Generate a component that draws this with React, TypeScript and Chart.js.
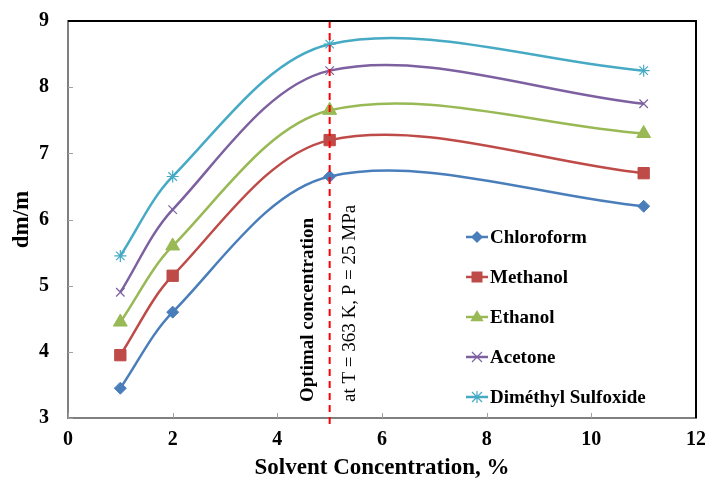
import React, { useEffect, useRef } from "react";
import { Chart, registerables } from "chart.js";

Chart.register(...registerables);

const xValues = [1, 2, 5, 11];
const seriesNames = ["Chloroform", "Methanol", "Ethanol", "Acetone", "Diméthyl Sulfoxide"];
const chloroform = [3.45, 4.6, 6.65, 6.2];
const methanol = [3.95, 5.15, 7.2, 6.7];
const ethanol = [4.45, 5.6, 7.65, 7.3];
const acetone = [4.9, 6.15, 8.25, 7.75];
const dmso = [5.45, 6.65, 8.65, 8.25];
const optimalX = 5;
const annotationLines = ["Optimal concentration", "at T = 363 K, P = 25 MPa"];
const xTicks = [0, 2, 4, 6, 8, 10, 12];
const yTicks = [3, 4, 5, 6, 7, 8, 9];

const colors = ["#4A7EBB", "#BE4B48", "#98B954", "#7D60A0", "#46AAC5"];
const markers = ["rectRot", "rect", "triangle", "crossRot", "star"];
const markerRadius = [6, 8, 8, 6, 6];
const FONT = "'Liberation Serif', 'Times New Roman', serif";

function drawMarker(ctx: CanvasRenderingContext2D, style: string, x: number, y: number) {
  ctx.beginPath();
  switch (style) {
    case "rectRot": {
      const r = 6;
      ctx.moveTo(x, y - r);
      ctx.lineTo(x + r, y);
      ctx.lineTo(x, y + r);
      ctx.lineTo(x - r, y);
      ctx.closePath();
      ctx.fill();
      break;
    }
    case "rect": {
      const s = 5.5;
      ctx.rect(x - s, y - s, 2 * s, 2 * s);
      ctx.fill();
      break;
    }
    case "triangle": {
      const r = 7;
      ctx.moveTo(x, y - r);
      ctx.lineTo(x + r * 0.95, y + r * 0.6);
      ctx.lineTo(x - r * 0.95, y + r * 0.6);
      ctx.closePath();
      ctx.fill();
      break;
    }
    case "crossRot": {
      const s = 5;
      ctx.moveTo(x - s, y - s);
      ctx.lineTo(x + s, y + s);
      ctx.moveTo(x + s, y - s);
      ctx.lineTo(x - s, y + s);
      ctx.stroke();
      break;
    }
    case "star": {
      const s = 5;
      ctx.moveTo(x - s, y - s);
      ctx.lineTo(x + s, y + s);
      ctx.moveTo(x + s, y - s);
      ctx.lineTo(x - s, y + s);
      ctx.moveTo(x, y - 6);
      ctx.lineTo(x, y + 6);
      ctx.stroke();
      break;
    }
  }
}

export default function App() {
  const ref = useRef<HTMLCanvasElement | null>(null);
  useEffect(() => {
    const allSeries = [chloroform, methanol, ethanol, acetone, dmso];
    const datasets = allSeries.map((vals, i) => ({
      label: seriesNames[i],
      data: xValues.map((x, j) => ({ x, y: vals[j] })),
      borderColor: colors[i],
      backgroundColor: colors[i],
      pointStyle: markers[i] as any,
      pointRadius: markerRadius[i],
      pointBorderWidth: i >= 3 ? 1.2 : 1,
      pointBorderColor: colors[i],
      borderWidth: 2.5,
      tension: 0.33,
      fill: false,
    }));

    const overlay = {
      id: "overlay",
      afterDatasetsDraw(chart: any) {
        const ctx = chart.ctx;
        const xs = chart.scales.x;
        const ys = chart.scales.y;
        const area = chart.chartArea;
        const px = xs.getPixelForValue(optimalX);
        ctx.save();
        // inner ticks
        ctx.strokeStyle = "#A0A0A0";
        ctx.lineWidth = 1;
        xTicks.forEach((t) => {
          const x = Math.round(xs.getPixelForValue(t)) + 0.5;
          ctx.beginPath();
          ctx.moveTo(x, area.bottom);
          ctx.lineTo(x, area.bottom - 5);
          ctx.stroke();
        });
        yTicks.forEach((t) => {
          const y = Math.round(ys.getPixelForValue(t)) + 0.5;
          ctx.beginPath();
          ctx.moveTo(area.left, y);
          ctx.lineTo(area.left + 5, y);
          ctx.stroke();
        });
        ctx.strokeStyle = "#FF0000";
        ctx.lineWidth = 2;
        ctx.setLineDash([7, 5]);
        ctx.beginPath();
        ctx.moveTo(px, area.top);
        ctx.lineTo(px, area.bottom + 6);
        ctx.stroke();
        ctx.setLineDash([]);
        // rotated annotation
        ctx.fillStyle = "#000";
        ctx.textAlign = "left";
        ctx.textBaseline = "middle";
        ctx.save();
        ctx.translate(px - 22, 402);
        ctx.rotate(-Math.PI / 2);
        ctx.font = `bold 19px ${FONT}`;
        ctx.fillText(annotationLines[0], 0, 0);
        ctx.restore();
        ctx.save();
        ctx.translate(px + 20, 402);
        ctx.rotate(-Math.PI / 2);
        ctx.font = `19px ${FONT}`;
        ctx.fillText(annotationLines[1], 0, 0);
        ctx.restore();
        // legend
        const lx = 466;
        let ly = 237;
        chart.data.datasets.forEach((ds: any) => {
          ctx.strokeStyle = ds.borderColor;
          ctx.lineWidth = 2.5;
          ctx.beginPath();
          ctx.moveTo(lx, ly);
          ctx.lineTo(lx + 22, ly);
          ctx.stroke();
          ctx.fillStyle = ds.borderColor;
          ctx.strokeStyle = ds.borderColor;
          ctx.lineWidth = 1.2;
          drawMarker(ctx, ds.pointStyle, lx + 11, ly);
          ctx.fillStyle = "#000";
          ctx.font = `bold 19px ${FONT}`;
          ctx.textAlign = "left";
          ctx.textBaseline = "middle";
          ctx.fillText(ds.label, lx + 24, ly + 1);
          ly += 40;
        });
        // frame top/right
        ctx.strokeStyle = "#000";
        ctx.lineWidth = 2;
        ctx.beginPath();
        ctx.moveTo(area.left, area.top);
        ctx.lineTo(area.right, area.top);
        ctx.lineTo(area.right, area.bottom);
        ctx.stroke();
        ctx.restore();
      },
    };

    const chart = new Chart(ref.current!, {
      type: "line",
      data: { datasets: datasets as any },
      plugins: [overlay],
      options: {
        animation: false,
        responsive: false,
        layout: { padding: { top: 21, right: 8, left: 0, bottom: 0 } },
        plugins: { legend: { display: false }, tooltip: { enabled: false } },
        scales: {
          x: {
            type: "linear",
            min: 0,
            max: 12,
            grid: { display: false, drawTicks: false },
            border: { color: "#808080", width: 2 },
            ticks: {
              stepSize: 2,
              color: "#000",
              font: { family: FONT, size: 20, weight: "bold" },
              padding: 10,
            },
            title: {
              display: true,
              text: "Solvent Concentration, %",
              color: "#000",
              font: { family: FONT, size: 23, weight: "bold" },
              padding: { top: 2 },
            },
            afterFit: (s: any) => {
              s.height = 68;
              s.paddingLeft = 0;
              s.paddingRight = 0;
            },
          },
          y: {
            min: 3,
            max: 9,
            grid: { display: false, drawTicks: false },
            border: { color: "#808080", width: 2 },
            ticks: {
              stepSize: 1,
              color: "#000",
              font: { family: FONT, size: 20, weight: "bold" },
              padding: 19,
            },
            title: {
              display: true,
              text: "dm/m",
              color: "#000",
              font: { family: FONT, size: 23, weight: "bold" },
              padding: { bottom: 0, top: 8 },
            },
            afterFit: (s: any) => {
              s.width = 68;
              s.paddingTop = 0;
              s.paddingBottom = 0;
            },
          },
        },
      },
    });
    return () => chart.destroy();
  }, []);

  return (
    <div style={{ position: "fixed", left: 0, top: 0, width: 705, height: 486, background: "#fff" }}>
      <canvas ref={ref} width={705} height={486} style={{ display: "block" }} />
    </div>
  );
}
